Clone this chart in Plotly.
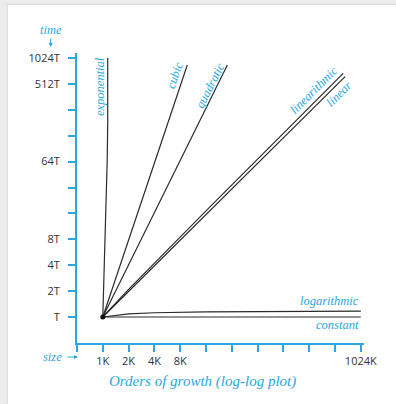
import plotly.graph_objects as go
import math

# ---- data: problem size (in K) and running time (in units of T) ----
constant_n = [1, 1024]
constant_t = [1, 1]

logarithmic_n = [1, 2, 4, 16, 1024]
logarithmic_t = [1, 1.09, 1.12, 1.15, 1.17]

linear_n = [1, 671]
linear_t = [1, 621]

linearithmic_n = [1, 2, 18.4, 639]
linearithmic_t = [1, 2.097, 19.7, 680]

quadratic_n = [1, 28.4]
quadratic_t = [1, 849]

cubic_n = [1, 9.68]
cubic_t = [1, 849]

exponential_n = [1, 1.072, 1.125, 1.141, 1.141]
exponential_t = [1, 9.8, 64, 181, 1024]

x_tick_vals = [0.5, 1, 2, 4, 8, 16, 32, 64, 128, 256, 512, 1024]
x_tick_text = ["", "1K", "2K", "4K", "8K", "", "", "", "", "", "", "1024K"]
y_tick_vals = [1, 2, 4, 8, 16, 32, 64, 128, 256, 512, 1024]
y_tick_text = ["T", "2T", "4T", "8T", "", "", "64T", "", "", "512T", "1024T"]

# ---- page geometry ----
W, H = 396, 404
L, R, TOP, B = 77, 364, 53, 343
PW, PH = R - L, B - TOP
BLUE = "#29a8e0"
INK = "#2b2b2b"
SERIF = "Liberation Serif"

LOG2 = math.log10(2)
x_per_dbl = 25.8
y_per_dbl = 25.9
x_lo = math.log10(0.5)
x_hi = x_lo + PW / x_per_dbl * LOG2
y_lo = -(B - 317) / y_per_dbl * LOG2
y_hi = y_lo + PH / y_per_dbl * LOG2


def fx(px):
    return (px - L) / PW


def fy(py):
    return (B - py) / PH


fig = go.Figure()

curves = [
    (constant_n, constant_t),
    (logarithmic_n, logarithmic_t),
    (linear_n, linear_t),
    (linearithmic_n, linearithmic_t),
    (quadratic_n, quadratic_t),
    (cubic_n, cubic_t),
    (exponential_n, exponential_t),
]
for n, t in curves:
    fig.add_trace(go.Scatter(x=n, y=t, mode="lines",
                             line=dict(color=INK, width=1.2),
                             hoverinfo="skip", showlegend=False))

# common starting point
fig.add_trace(go.Scatter(x=[constant_n[0]], y=[constant_t[0]], mode="markers",
                         marker=dict(color="#111", size=5),
                         hoverinfo="skip", showlegend=False))


def label(text, px, py, angle=0, size=12.5, xanchor="center"):
    return dict(text=f"<i>{text}</i>", x=fx(px), y=fy(py), xref="paper", yref="paper",
                showarrow=False, textangle=angle, xanchor=xanchor, yanchor="middle",
                font=dict(family=SERIF, size=size, color=BLUE))


annotations = [
    label("exponential", 100, 87, -90),
    label("cubic", 175, 75, -71),
    label("quadratic", 210, 86, -63),
    label("linearithmic", 314, 90, -45),
    label("linear", 339, 94, -45),
    label("logarithmic", 361, 301, 0, xanchor="right"),
    label("constant", 361, 325, 0, xanchor="right"),
    label("time", 51, 30),
    label("size", 52, 357),
    label("Orders of growth (log-log plot)", 202, 381, 0, size=15),
    # axis arrows
    dict(text="", x=fx(50.7), y=fy(47), xref="paper", yref="paper",
         showarrow=True, ax=0, ay=-10, arrowhead=2, arrowsize=0.8,
         arrowwidth=1, arrowcolor=BLUE),
    dict(text="", x=fx(78), y=fy(357), xref="paper", yref="paper",
         showarrow=True, ax=-12, ay=0, arrowhead=2, arrowsize=0.8,
         arrowwidth=1, arrowcolor=BLUE),
]

# page frame: grey edge with a soft shadow along top and left
shapes = [
    dict(type="rect", xref="paper", yref="paper", layer="below",
         x0=fx(0), x1=fx(W), y0=fy(0), y1=fy(5), fillcolor="#ececec", line_width=0),
    dict(type="rect", xref="paper", yref="paper", layer="below",
         x0=fx(0), x1=fx(8), y0=fy(0), y1=fy(H), fillcolor="#ececec", line_width=0),
    dict(type="rect", xref="paper", yref="paper", layer="below",
         x0=fx(6), x1=fx(W), y0=fy(3.5), y1=fy(5), fillcolor="#e0e0e0", line_width=0),
    dict(type="rect", xref="paper", yref="paper", layer="below",
         x0=fx(6.5), x1=fx(8), y0=fy(3.5), y1=fy(H), fillcolor="#e0e0e0", line_width=0),
]

axis_common = dict(
    type="log", showgrid=False, zeroline=False, showline=True,
    linecolor=BLUE, linewidth=2, ticks="outside", ticklen=7,
    tickcolor=BLUE, tickwidth=1.5, tickmode="array",
    tickfont=dict(family="Open Sans", size=11, color="#333333"),
)

fig.update_layout(
    width=W, height=H,
    margin=dict(l=L, r=W - R, t=TOP, b=H - B, pad=0),
    paper_bgcolor="white", plot_bgcolor="white",
    xaxis=dict(axis_common, range=[x_lo, x_hi], tickvals=x_tick_vals,
               ticktext=x_tick_text),
    yaxis=dict(axis_common, range=[y_lo, y_hi], tickvals=y_tick_vals,
               ticktext=y_tick_text, ticklabelstandoff=6),
    annotations=annotations,
    shapes=shapes,
    showlegend=False,
)

fig.write_html("out.html", config={"displayModeBar": False})
